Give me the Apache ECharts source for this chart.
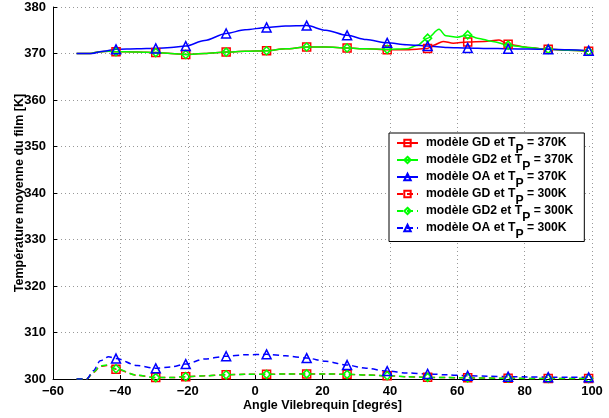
<!DOCTYPE html>
<html>
<head>
<meta charset="utf-8">
<script src="https://cdn.jsdelivr.net/npm/echarts@6/dist/echarts.min.js"></script>
<style>
  html, body { margin: 0; padding: 0; background: #fff; }
  #chart { width: 609px; height: 418px; }
</style>
</head>
<body>
<div id="chart"></div>
<script>
// Crank angles at which the markers are placed on every curve
const markerAngles = [-41.3, -29.5, -20.6, -8.6, 3.4, 15.3, 27.3, 39.2, 51.2, 63.1, 75.1, 87, 99];

// Wall temperature T_P = 370 K
const angleGD370 = [-53, -49, -46, -43.5, -41.3, -35, -29.5, -25, -20.6, -15, -8.6, -3, 3.4, 9, 15.3, 21, 27.3, 33, 39.2, 45, 48, 51.2, 53, 55.8, 58.8, 63.1, 68, 72.4, 75.1, 81, 87, 93, 99];
const tempGD370  = [370, 370, 370.4, 370.5, 370.4, 370.3, 370.2, 370.0, 369.8, 370.0, 370.3, 370.5, 370.6, 371.0, 371.4, 371.4, 371.2, 371.0, 370.8, 370.8, 370.9, 371.1, 371.8, 372.6, 372.2, 372.5, 372.6, 372.9, 372.0, 371.3, 370.9, 370.7, 370.5];

const angleGD2370 = [-53, -49, -46, -43.5, -41.3, -35, -29.5, -25, -20.6, -15, -8.6, -3, 3.4, 9, 15.3, 21, 27.3, 33, 39.2, 45, 48, 51.2, 54.6, 56.6, 60, 63.1, 66, 70.5, 75.1, 81, 87, 93, 99];
const tempGD2370  = [370, 370, 370.4, 370.5, 370.4, 370.3, 370.2, 370.0, 369.8, 370.0, 370.3, 370.5, 370.6, 371.0, 371.4, 371.4, 371.2, 371.0, 370.9, 371.0, 371.7, 373.3, 375.2, 373.8, 373.5, 374.0, 373.3, 372.6, 371.8, 371.3, 370.9, 370.7, 370.5];

const angleOA370 = [-53, -48.5, -45, -41.3, -35, -29.5, -25, -20.6, -15, -8.6, -3, 3.4, 9, 15.3, 21, 27.3, 33, 39.2, 45, 51.2, 57, 63.1, 69, 75.1, 81, 87, 93, 99];
const tempOA370  = [370, 370, 370.5, 370.9, 371.0, 371.1, 371.3, 371.6, 372.8, 374.3, 375.1, 375.6, 375.9, 376.0, 375.0, 373.9, 373.0, 372.3, 371.9, 371.6, 371.3, 371.2, 371.1, 371.0, 370.95, 370.9, 370.8, 370.6];

// Wall temperature T_P = 300 K
const angleGD300 = [-53, -50, -48, -46, -44, -41.3, -35, -29.5, -25, -20.6, -15, -8.6, -3, 3.4, 9, 15.3, 21, 27.3, 33, 39.2, 45, 51.2, 57, 63.1, 75.1, 87, 99];
const tempGD300  = [300, 300, 301.4, 302.7, 302.9, 302.1, 300.8, 300.3, 300.3, 300.5, 300.7, 300.9, 301.0, 301.0, 301.1, 301.1, 301.1, 301.0, 300.85, 300.7, 300.5, 300.35, 300.3, 300.25, 300.15, 300.1, 300.1];

const angleGD2300 = [-53, -50, -48, -46, -44, -41.3, -35, -29.5, -25, -20.6, -15, -8.6, -3, 3.4, 9, 15.3, 21, 27.3, 33, 39.2, 45, 51.2, 57, 63.1, 75.1, 87, 99];
const tempGD2300  = [300, 300, 301.5, 302.8, 303.0, 302.2, 300.8, 300.3, 300.3, 300.5, 300.7, 300.9, 301.0, 301.0, 301.1, 301.1, 301.1, 301.0, 300.85, 300.7, 300.5, 300.35, 300.3, 300.25, 300.15, 300.1, 300.1];

const angleOA300 = [-53, -50, -48, -46, -43.5, -41.3, -35, -29.5, -25, -20.6, -15, -8.6, -3, 3.4, 9, 15.3, 21, 27.3, 33, 39.2, 45, 51.2, 57, 63.1, 69, 75.1, 81, 87, 93, 99];
const tempOA300  = [300, 300, 301.8, 303.9, 304.8, 304.4, 302.9, 302.3, 302.6, 303.2, 304.3, 304.9, 305.2, 305.3, 305.0, 304.5, 303.8, 303.0, 302.3, 301.7, 301.3, 301.1, 300.9, 300.7, 300.6, 300.5, 300.45, 300.4, 300.35, 300.35];

// Axis ticks
const xTicks = [-60, -40, -20, 0, 20, 40, 60, 80, 100];
const yTicks = [300, 310, 320, 330, 340, 350, 360, 370, 380];

const FONT = '"Liberation Sans", Arial, Helvetica, sans-serif';

function buildData(angles, temps) {
  return angles.map((a, i) => {
    const isMarker = markerAngles.indexOf(a) >= 0;
    return isMarker ? { value: [a, temps[i]] } : { value: [a, temps[i]], symbol: 'none' };
  });
}

function makeSeries(name, angles, temps, color, symbol, dashed) {
  return {
    name: name,
    type: 'line',
    data: buildData(angles, temps),
    smooth: 0.3,
    smoothMonotone: 'x',
    symbol: symbol,
    symbolSize: symbol === 'triangle' ? 9 : 8,
    showAllSymbol: true,
    color: color,
    lineStyle: { color: color, width: 1.5, type: dashed ? [6, 4] : 'solid' },
    itemStyle: { color: 'rgba(255,255,255,0)', borderColor: color, borderWidth: 1.5 },
    emphasis: { disabled: true },
    animation: false
  };
}

const series = [
  makeSeries('GD370', angleGD370, tempGD370, '#ff0000', 'rect', false),
  makeSeries('GD2370', angleGD2370, tempGD2370, '#00ff00', 'diamond', false),
  makeSeries('OA370', angleOA370, tempOA370, '#0000ff', 'triangle', false),
  makeSeries('GD300', angleGD300, tempGD300, '#ff0000', 'rect', true),
  makeSeries('GD2300', angleGD2300, tempGD2300, '#00ff00', 'diamond', true),
  makeSeries('OA300', angleOA300, tempOA300, '#0000ff', 'triangle', true)
];

const legendText = {
  GD370: 'modèle GD et T{s|P} = 370K',
  GD2370: 'modèle GD2 et T{s|P} = 370K',
  OA370: 'modèle OA et T{s|P} = 370K',
  GD300: 'modèle GD et T{s|P} = 300K',
  GD2300: 'modèle GD2 et T{s|P} = 300K',
  OA300: 'modèle OA et T{s|P} = 300K'
};

const chart = echarts.init(document.getElementById('chart'), null, { renderer: 'canvas' });
chart.setOption({
  backgroundColor: '#fff',
  animation: false,
  grid: { left: 53, right: 17, top: 7, bottom: 39, containLabel: false, outerBoundsMode: 'none' },
  xAxis: {
    type: 'value',
    min: xTicks[0],
    max: xTicks[xTicks.length - 1],
    interval: 20,
    name: 'Angle Vilebrequin [degrés]',
    nameLocation: 'middle',
    nameGap: 20,
    nameMoveOverlap: false,
    nameTextStyle: { fontFamily: FONT, fontWeight: 'bold', fontSize: 12.5, color: '#000' },
    axisLine: { show: true, onZero: false, lineStyle: { color: '#000', width: 1 } },
    axisTick: { show: true, inside: true, length: 4, lineStyle: { color: '#000' } },
    axisLabel: {
      fontFamily: FONT, fontWeight: 'bold', fontSize: 13, color: '#000', margin: 6,
      formatter: v => String(v).replace('-', '\u2212')
    },
    splitLine: { show: true, lineStyle: { color: '#999', type: [1, 3], width: 1 } }
  },
  yAxis: {
    type: 'value',
    min: yTicks[0],
    max: yTicks[yTicks.length - 1],
    interval: 10,
    name: 'Température moyenne du film [K]',
    nameLocation: 'middle',
    nameGap: 27,
    nameMoveOverlap: false,
    nameTextStyle: { fontFamily: FONT, fontWeight: 'bold', fontSize: 12.5, color: '#000' },
    axisLine: { show: true, onZero: false, lineStyle: { color: '#000', width: 1 } },
    axisTick: { show: true, inside: true, length: 4, lineStyle: { color: '#000' } },
    axisLabel: { fontFamily: FONT, fontWeight: 'bold', fontSize: 13, color: '#000', margin: 7 },
    splitLine: { show: true, lineStyle: { color: '#999', type: [1, 3], width: 1 } }
  },
  legend: {
    orient: 'vertical',
    left: 389,
    top: 133,
    backgroundColor: '#fff',
    borderColor: '#000',
    borderWidth: 1,
    borderRadius: 0,
    padding: [4, 11, 1, 7],
    itemWidth: 21,
    itemHeight: 8,
    itemGap: -1.5,
    selectedMode: false,
    data: series.map(s => s.name),
    formatter: name => legendText[name],
    textStyle: {
      fontFamily: FONT, fontWeight: 'bold', fontSize: 12.2, color: '#000',
      padding: [0, 0, 0, 3],
      rich: {
        s: { fontFamily: FONT, fontWeight: 'bold', fontSize: 12.2, color: '#000', padding: [13, 0, 0, 0], verticalAlign: 'bottom' }
      }
    }
  },
  series: series
});
</script>
</body>
</html>
